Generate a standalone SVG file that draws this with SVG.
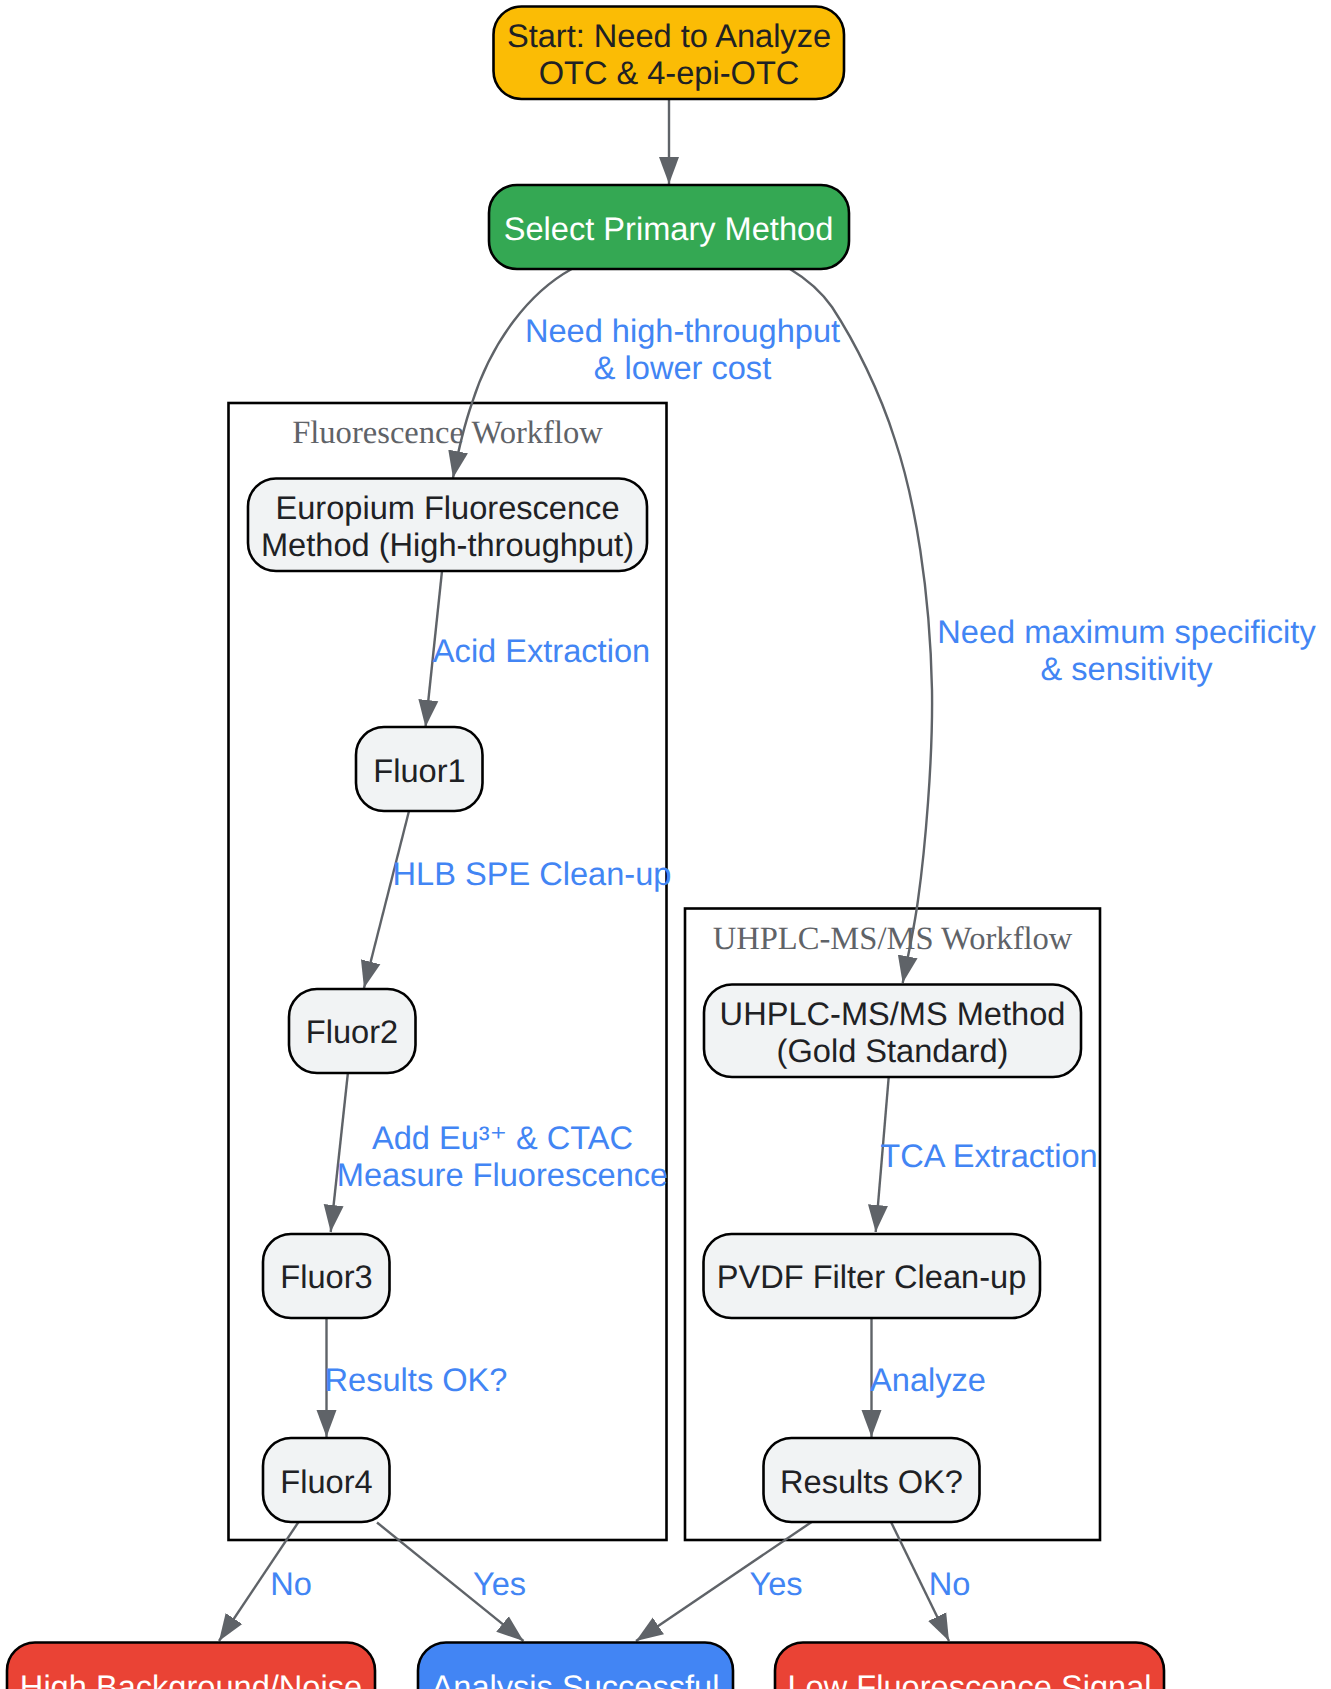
<svg xmlns="http://www.w3.org/2000/svg" width="1331" height="1689" viewBox="0 0 1331 1689">
<style>
text{font-family:"Liberation Sans",Arial,sans-serif;font-size:32.6px;text-anchor:middle;text-rendering:geometricPrecision}
.n rect{stroke:#000;stroke-width:2.6}
.n text{fill:#202124}
.n .w{fill:#fff}
.lite{fill:#f1f3f4}
.c{fill:#fff;stroke:#000;stroke-width:2.6}
.t{font-family:"Liberation Serif","Times New Roman",serif;fill:#5f6368}
.e path{fill:none;stroke:#5f6368;stroke-width:2.4;marker-end:url(#a)}
.l{fill:#4285f4}
.s{font-family:"DejaVu Sans",sans-serif}
</style>
<defs>
<marker id="a" markerUnits="userSpaceOnUse" markerWidth="28" markerHeight="21" viewBox="0 0 28 21" refX="27" refY="10.5" orient="auto">
<path d="M0 0.5L27 10.5L0 20.5Z" fill="#5f6368"/>
</marker>
</defs>
<rect width="1331" height="1689" fill="#fff"/>
<g id="cluster-fluorescence"><rect class="c" x="228.5" y="403" width="438" height="1137"/><text class="t" x="447.5" y="443">Fluorescence Workflow</text></g>
<g id="cluster-uhplc"><rect class="c" x="685" y="908.5" width="415" height="631.5"/><text class="t" x="892.5" y="949">UHPLC-MS/MS Workflow</text></g>
<g id="connectors" class="e">
<path d="M669 99V184"/>
<path d="M571.7 269C530 292 492 340 472 403C464 426 458 452 453 478"/>
<path d="M790 269C805 278 820 290 832 307C855 342 880 392 895 440C915 500 930 590 932 690C933 760 925 850 918 900C914 930 908 955 902.7 983"/>
<path d="M442 571L425.5 727"/>
<path d="M409 811L364 988"/>
<path d="M348 1072L330.7 1232"/>
<path d="M326.5 1318V1437"/>
<path d="M888.7 1077L875.7 1232"/>
<path d="M871.5 1318V1437"/>
<path d="M298.5 1522L219 1641"/>
<path d="M377 1522.5L523.5 1641"/>
<path d="M811.6 1522L636 1641"/>
<path d="M891 1522L949 1641"/>
</g>
<g id="edge-labels" class="l">
<text x="682.5" y="342">Need high-throughput</text><text x="682.5" y="379">&amp; lower cost</text>
<text x="1126.5" y="643">Need maximum specificity</text><text x="1126.5" y="680">&amp; sensitivity</text>
<text x="541.5" y="662">Acid Extraction</text>
<text x="532" y="885">HLB SPE Clean-up</text>
<text x="502.5" y="1149">Add Eu³<tspan class="s">⁺</tspan> &amp; CTAC</text><text x="502.5" y="1186">Measure Fluorescence</text>
<text x="416" y="1391">Results OK?</text>
<text x="989" y="1167">TCA Extraction</text>
<text x="928" y="1391">Analyze</text>
<text x="291" y="1595">No</text>
<text x="499.5" y="1595">Yes</text>
<text x="776" y="1595">Yes</text>
<text x="949.5" y="1595">No</text>
</g>
<g id="start" class="n"><rect x="493.5" y="6.5" width="350.5" height="92.5" rx="28" fill="#fbbc05"/><text x="669" y="47">Start: Need to Analyze</text><text x="669" y="84">OTC &amp; 4-epi-OTC</text></g>
<g id="select" class="n"><rect x="489" y="185" width="360" height="84" rx="28" fill="#34a853"/><text class="w" x="668.5" y="239.5">Select Primary Method</text></g>
<g id="europium" class="n"><rect class="lite" x="248" y="478.5" width="399" height="92.5" rx="28"/><text x="447.5" y="519">Europium Fluorescence</text><text x="447.5" y="556">Method (High-throughput)</text></g>
<g id="fluor1" class="n"><rect class="lite" x="356" y="727" width="126.5" height="84" rx="28"/><text x="419.5" y="782">Fluor1</text></g>
<g id="fluor2" class="n"><rect class="lite" x="289" y="989" width="126.5" height="84" rx="28"/><text x="352" y="1043">Fluor2</text></g>
<g id="fluor3" class="n"><rect class="lite" x="263" y="1234" width="126.5" height="84" rx="28"/><text x="326.5" y="1288">Fluor3</text></g>
<g id="fluor4" class="n"><rect class="lite" x="263" y="1438" width="126.5" height="84" rx="28"/><text x="326.5" y="1493">Fluor4</text></g>
<g id="uhplc" class="n"><rect class="lite" x="704" y="984.5" width="377" height="92.5" rx="28"/><text x="892.5" y="1024.5">UHPLC-MS/MS Method</text><text x="892.5" y="1062">(Gold Standard)</text></g>
<g id="pvdf" class="n"><rect class="lite" x="703.5" y="1234" width="336.5" height="84" rx="28"/><text x="871.5" y="1288">PVDF Filter Clean-up</text></g>
<g id="results" class="n"><rect class="lite" x="763.5" y="1438" width="216" height="84" rx="28"/><text x="871.5" y="1493">Results OK?</text></g>
<g id="high" class="n"><rect x="7" y="1642.5" width="368" height="84" rx="28" fill="#ea4335"/><text class="w" x="191" y="1698">High Background/Noise</text></g>
<g id="success" class="n"><rect x="418" y="1642.5" width="315" height="84" rx="28" fill="#4285f4"/><text class="w" x="575.5" y="1698">Analysis Successful</text></g>
<g id="low" class="n"><rect x="775" y="1642.5" width="389" height="84" rx="28" fill="#ea4335"/><text class="w" x="969.5" y="1698">Low Fluorescence Signal</text></g>
</svg>
